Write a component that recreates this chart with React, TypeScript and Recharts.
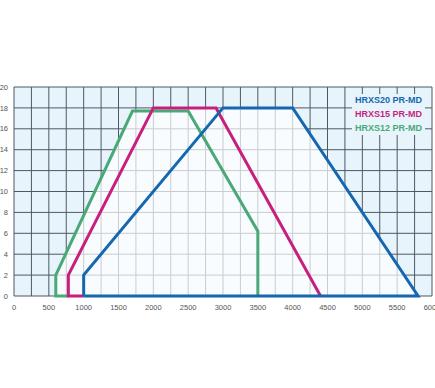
import { ComposedChart, Line, Area, XAxis, YAxis, CartesianGrid } from "recharts";

// outline of each model's working range (x = flow, y = pressure)
const hrxs20 = [
  { x: 1000, y: 0 },
  { x: 1000, y: 2 },
  { x: 3000, y: 18 },
  { x: 4000, y: 18 },
  { x: 5800, y: 0 },
  { x: 1000, y: 0 },
];

const hrxs15 = [
  { x: 1000, y: 0 },
  { x: 780, y: 0 },
  { x: 780, y: 2 },
  { x: 2000, y: 18 },
  { x: 2900, y: 18 },
  { x: 4400, y: 0 },
];

const hrxs12 = [
  { x: 780, y: 0 },
  { x: 600, y: 0 },
  { x: 600, y: 2 },
  { x: 1700, y: 17.7 },
  { x: 2500, y: 17.7 },
  { x: 3500, y: 6.2 },
  { x: 3500, y: 0 },
];

// union of the three ranges, shown lighter
const envelope = [
  { x: 600, y: 0 },
  { x: 600, y: 2 },
  { x: 1700, y: 17.7 },
  { x: 1977, y: 17.7 },
  { x: 2000, y: 18 },
  { x: 2900, y: 18 },
  { x: 2940, y: 17.5 },
  { x: 3000, y: 18 },
  { x: 4000, y: 18 },
  { x: 5800, y: 0 },
];

const xTicks = [0, 500, 1000, 1500, 2000, 2500, 3000, 3500, 4000, 4500, 5000, 5500, 6000];
const xGrid = [0, 250, 500, 750, 1000, 1250, 1500, 1750, 2000, 2250, 2500, 2750, 3000, 3250, 3500, 3750, 4000, 4250, 4500, 4750, 5000, 5250, 5500, 5750, 6000];
const yTicks = [0, 2, 4, 6, 8, 10, 12, 14, 16, 18, 20];

const legendItems = [
  { name: "HRXS20 PR-MD", color: "#1467b0" },
  { name: "HRXS15 PR-MD", color: "#c81f7e" },
  { name: "HRXS12 PR-MD", color: "#4aa976" },
];

const tickStyle = { fontSize: 7.5, fill: "#555", fontFamily: "Liberation Sans, Arial, sans-serif" };

export default function App() {
  return (
    <div style={{ position: "absolute", left: 0, top: 0, width: 435, height: 388, background: "#fff" }}>
      <ComposedChart width={435} height={388} margin={{ top: 87, right: 3, bottom: 72, left: 0 }}>
        <CartesianGrid
          fill="#e8f4fc"
          stroke="#4d5863"
          strokeWidth={1}
          strokeDasharray=""
          verticalCoordinatesGenerator={({ offset }: any) =>
            xGrid.map((v) => offset.left + (v / 6000) * offset.width)
          }
        />
        <XAxis
          dataKey="x"
          type="number"
          domain={[0, 6000]}
          ticks={xTicks}
          tickLine={false}
          axisLine={false}
          tickSize={0}
          tickMargin={9}
          height={20}
          tick={tickStyle}
          interval={0}
        />
        <YAxis
          type="number"
          domain={[0, 20]}
          ticks={yTicks}
          tickLine={false}
          axisLine={false}
          tickSize={0}
          tickMargin={6}
          width={14}
          tick={tickStyle}
          interval={0}
        />
        <Area
          data={envelope}
          dataKey="y"
          type="linear"
          stroke="none"
          fill="#ffffff"
          fillOpacity={0.7}
          isAnimationActive={false}
        />
        <Line data={hrxs12} dataKey="y" type="linear" stroke={legendItems[2].color} strokeWidth={3} dot={false} isAnimationActive={false} />
        <Line data={hrxs15} dataKey="y" type="linear" stroke={legendItems[1].color} strokeWidth={3} dot={false} isAnimationActive={false} />
        <Line data={hrxs20} dataKey="y" type="linear" stroke={legendItems[0].color} strokeWidth={3} dot={false} isAnimationActive={false} />
      </ComposedChart>
      <div
        style={{
          position: "absolute",
          right: 10,
          top: 94,
          display: "flex",
          flexDirection: "column",
          alignItems: "flex-end",
          fontFamily: "Liberation Sans, Arial, sans-serif",
          fontWeight: "bold",
          fontSize: 9,
          lineHeight: "13.8px",
        }}
      >
        {legendItems.map((it) => (
          <span key={it.name} style={{ color: it.color, background: "#e8f4fc", padding: "0 3px" }}>
            {it.name}
          </span>
        ))}
      </div>
    </div>
  );
}
